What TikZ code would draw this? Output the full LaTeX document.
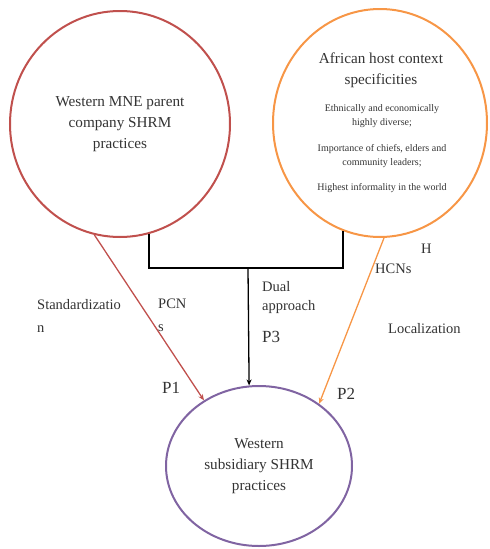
\documentclass[tikz,border=0pt]{standalone}
\usepackage{fontspec}
\setmainfont{Liberation Serif}
\usetikzlibrary{shapes.geometric,arrows.meta}
\definecolor{cred}{HTML}{C0504D}
\definecolor{corange}{HTML}{F79646}
\definecolor{cpurple}{HTML}{8064A2}
\definecolor{ctext}{HTML}{333333}
\tikzset{
  bubble/.style={ellipse, draw, line width=2pt, inner sep=0pt, align=center, text=ctext},
  lab/.style={text=ctext, inner sep=0pt, font=\rmfamily\fontsize{14.5}{23}\selectfont, align=left},
  plab/.style={text=ctext, inner sep=0pt, font=\rmfamily\fontsize{17}{20}\selectfont},
  bigtxt/.style={font=\rmfamily\fontsize{15.2}{21}\selectfont},
  smalltxt/.style={text=ctext, inner sep=0pt, align=center, font=\rmfamily\fontsize{10}{14}\selectfont},
  conn/.style={line width=1.3pt},
}
\begin{document}
\begin{tikzpicture}[x=1pt,y=-1pt]
\useasboundingbox (0,0) rectangle (490,549);
% circles
\node[bubble, draw=cred, minimum width=220pt, minimum height=226pt, bigtxt] (parent) at (120,124)
  {Western MNE parent\\company SHRM\\practices};
\node[bubble, draw=corange, minimum width=214pt, minimum height=228pt] (host) at (380,123) {};
\node[text=ctext, align=center, inner sep=0pt, bigtxt] (hosttitle) at (381,70)
  {African host context\\specificities};
\node[smalltxt] (hs1) at (382,116) {Ethnically and economically\\highly diverse;};
\node[smalltxt] (hs2) at (382,156) {Importance of chiefs, elders and\\community leaders;};
\node[smalltxt] (hs3) at (382,188) {Highest informality in the world};
\node[bubble, draw=cpurple, minimum width=186pt, minimum height=160pt, bigtxt] (sub) at (259,466)
  {Western\\subsidiary SHRM\\practices};
% connectors
\coordinate (j) at (248,268);
\draw[line width=2pt, line cap=butt] (parent.285.7) |- (j) -| (host.251.1);
\draw[conn, black, -{Stealth[length=6pt,width=5pt]}] (j) -- (sub.97.8);
\draw[conn, cred, -{Stealth[length=6pt,width=5pt]}] (parent.257.5) -- (sub.130.3);
\draw[conn, corange, -{Stealth[length=6pt,width=5pt]}] (host.272.5) -- (sub.46.8);
% labels
\node[lab, anchor=west] (std) at (37,315.5) {Standardizatio\\n};
\node[lab, anchor=west] (pcn) at (158,315.5) {PCN\\s};
\node[lab, anchor=west, font=\rmfamily\fontsize{14.5}{19}\selectfont] (dual) at (262,297.5) {Dual\\approach};
\node[plab, anchor=west] (p3) at (262,337) {P3};
\node[lab, anchor=west] (h) at (421,249) {H};
\node[lab, anchor=west] (hcn) at (375,269) {HCNs};
\node[lab, anchor=west] (loc) at (388,329) {Localization};
\node[plab, anchor=west] (p1) at (162,388) {P1};
\node[plab, anchor=west] (p2) at (337,394) {P2};
\end{tikzpicture}
\end{document}
